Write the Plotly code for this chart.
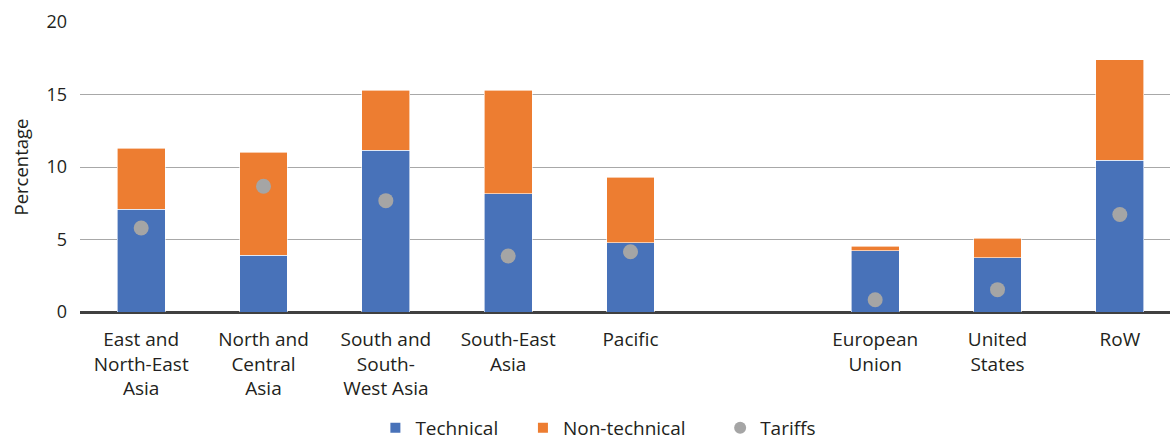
import plotly.graph_objects as go

categories = ["East and<br>North-East<br>Asia", "North and<br>Central<br>Asia",
              "South and<br>South-<br>West Asia", "South-East<br>Asia", "Pacific",
              " ", "European<br>Union", "United<br>States", "RoW"]
technical = [7.10, 3.93, 11.17, 8.16, 4.78, None, 4.21, 3.75, 10.48]
total = [11.29, 11.03, 15.29, 15.29, 9.31, None, 4.53, 5.10, 17.41]
non_technical = [None if t is None else round(t - a, 2) for t, a in zip(total, technical)]
tariffs = [5.79, 8.67, 7.68, 3.86, 4.16, None, 0.85, 1.54, 6.72]
series_names = ["Technical", "Non-technical", "Tariffs"]

BLUE = "#4872B9"
ORANGE = "#ED7D31"
GREY = "#A5A5A5"
FONT = "Open Sans"
TXT = "#231F20"

fig = go.Figure()
fig.add_trace(go.Bar(x=categories, y=technical, name=series_names[0] + "\u00a0" * 4,
                     marker_color=BLUE, marker_line=dict(color="white", width=0.6), width=0.39))
fig.add_trace(go.Bar(x=categories, y=non_technical, name=series_names[1] + "\u00a0" * 6,
                     marker_color=ORANGE, marker_line=dict(color="white", width=0.6), width=0.39))
fig.add_trace(go.Scatter(x=categories, y=tariffs, name=series_names[2], mode="markers",
                         marker=dict(color=GREY, size=15)))

fig.update_layout(
    barmode="stack",
    width=1170, height=437,
    margin=dict(l=80, r=0, t=22, b=125, autoexpand=False),
    paper_bgcolor="white", plot_bgcolor="white",
    font=dict(family=FONT, size=19, color=TXT),
    showlegend=True,
    legend=dict(orientation="h", x=0.271, xanchor="left", yref="container",
                y=0.021, yanchor="middle",
                font=dict(size=19), itemsizing="constant", traceorder="normal",
                itemwidth=30),
)
fig.update_xaxes(type="category", categoryorder="array", categoryarray=categories,
                 range=[-0.5, 8.41], showgrid=False, ticks="", showline=True,
                 linecolor="#404040", linewidth=2, tickfont=dict(size=19),
                 automargin=False, ticklabelstandoff=9)
fig.update_yaxes(range=[0, 20], dtick=5, showgrid=True, gridcolor="#A8A8A8", gridwidth=1,
                 zeroline=True, zerolinecolor="#404040", zerolinewidth=2,
                 title=dict(text="Percentage", font=dict(size=18.5), standoff=12),
                 tickfont=dict(size=18), ticks="", automargin=False, ticklabelstandoff=12)

fig.write_html("out.html")
